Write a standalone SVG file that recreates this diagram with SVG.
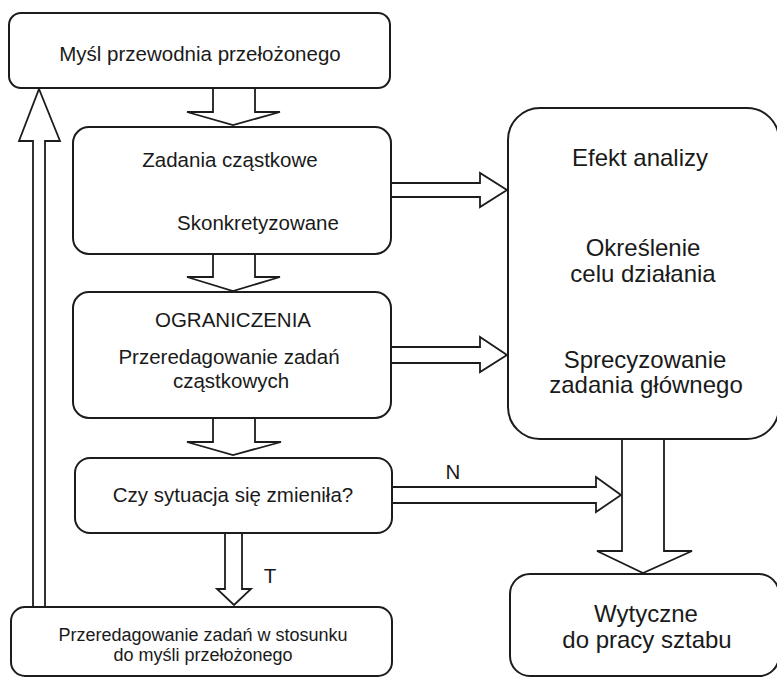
<svg xmlns="http://www.w3.org/2000/svg" width="777" height="678" viewBox="0 0 777 678">
  <style>
    .box { fill: #ffffff; stroke: #1c1c1c; stroke-width: 2; }
    .arrow { fill: #ffffff; stroke: #1c1c1c; stroke-width: 1.8; stroke-linejoin: miter; }
    text { font-family: "Liberation Sans", Arial, sans-serif; fill: #1a1a1a; text-anchor: middle; }
    .l { font-size: 20.5px; }
    .s { font-size: 18px; }
    .r { font-size: 24px; }
  </style>
  <rect width="777" height="678" fill="#ffffff"/>

  <!-- block arrows -->
  <g id="connectors">
    <path class="arrow" d="M213,88 V112 H187 L233,125 L280,112 H255 V88"/>
    <path class="arrow" d="M213,254 V277 H187 L233,291 L280,277 H255 V254"/>
    <path class="arrow" d="M213,418 V442 H187 L233,455 L281,442 H255 V418"/>
    <path class="arrow" d="M225,533 V589 H217 L234,605 L251,589 H242 V533"/>
    <path class="arrow" d="M33,607 V141 H19 L39,89 L60,141 H45 V607"/>
    <path class="arrow" d="M391,183 H480 V173 L507,190 L480,207 V197 H391"/>
    <path class="arrow" d="M391,347 H480 V337 L507,355 L480,372 V363 H391"/>
    <path class="arrow" d="M392,487 H596 V477 L621,495 L596,512 V503 H392"/>
    <path class="arrow" d="M622,440 V551 H597 L643,573 L692,551 H664 V440"/>
    <text class="l" x="270" y="583">T</text>
    <text class="l" x="453" y="479">N</text>
  </g>

  <g id="mysl">
    <rect class="box" x="9" y="13" width="381" height="75" rx="12"/>
    <text class="l" x="200" y="61">Myśl przewodnia przełożonego</text>
  </g>

  <g id="zadania">
    <rect class="box" x="73" y="127" width="318" height="127" rx="16"/>
    <text class="l" x="230" y="167">Zadania cząstkowe</text>
    <text class="l" x="258" y="230">Skonkretyzowane</text>
  </g>

  <g id="ograniczenia">
    <rect class="box" x="73" y="292" width="318" height="126" rx="16"/>
    <text class="l" x="233" y="327">OGRANICZENIA</text>
    <text class="l" x="229" y="364">Przeredagowanie zadań</text>
    <text class="l" x="231" y="388">cząstkowych</text>
  </g>

  <g id="sytuacja">
    <rect class="box" x="75" y="458" width="317" height="75" rx="15"/>
    <text class="l" x="233" y="502">Czy sytuacja się zmieniła?</text>
  </g>

  <g id="przeredagowanie">
    <rect class="box" x="11" y="607" width="381" height="69" rx="14"/>
    <text class="s" x="203" y="641">Przeredagowanie zadań w stosunku</text>
    <text class="s" x="203" y="661">do myśli przełożonego</text>
  </g>

  <g id="efekt">
    <rect class="box" x="508" y="108" width="271" height="331" rx="32"/>
    <text class="r" x="640" y="166">Efekt analizy</text>
    <text class="r" x="643" y="256">Określenie</text>
    <text class="r" x="643" y="282">celu działania</text>
    <text class="r" x="645" y="368">Sprecyzowanie</text>
    <text class="r" x="646" y="393">zadania głównego</text>
  </g>

  <g id="wytyczne">
    <rect class="box" x="510" y="574" width="269" height="102" rx="20"/>
    <text class="r" x="646" y="622">Wytyczne</text>
    <text class="r" x="647" y="648">do pracy sztabu</text>
  </g>
</svg>
